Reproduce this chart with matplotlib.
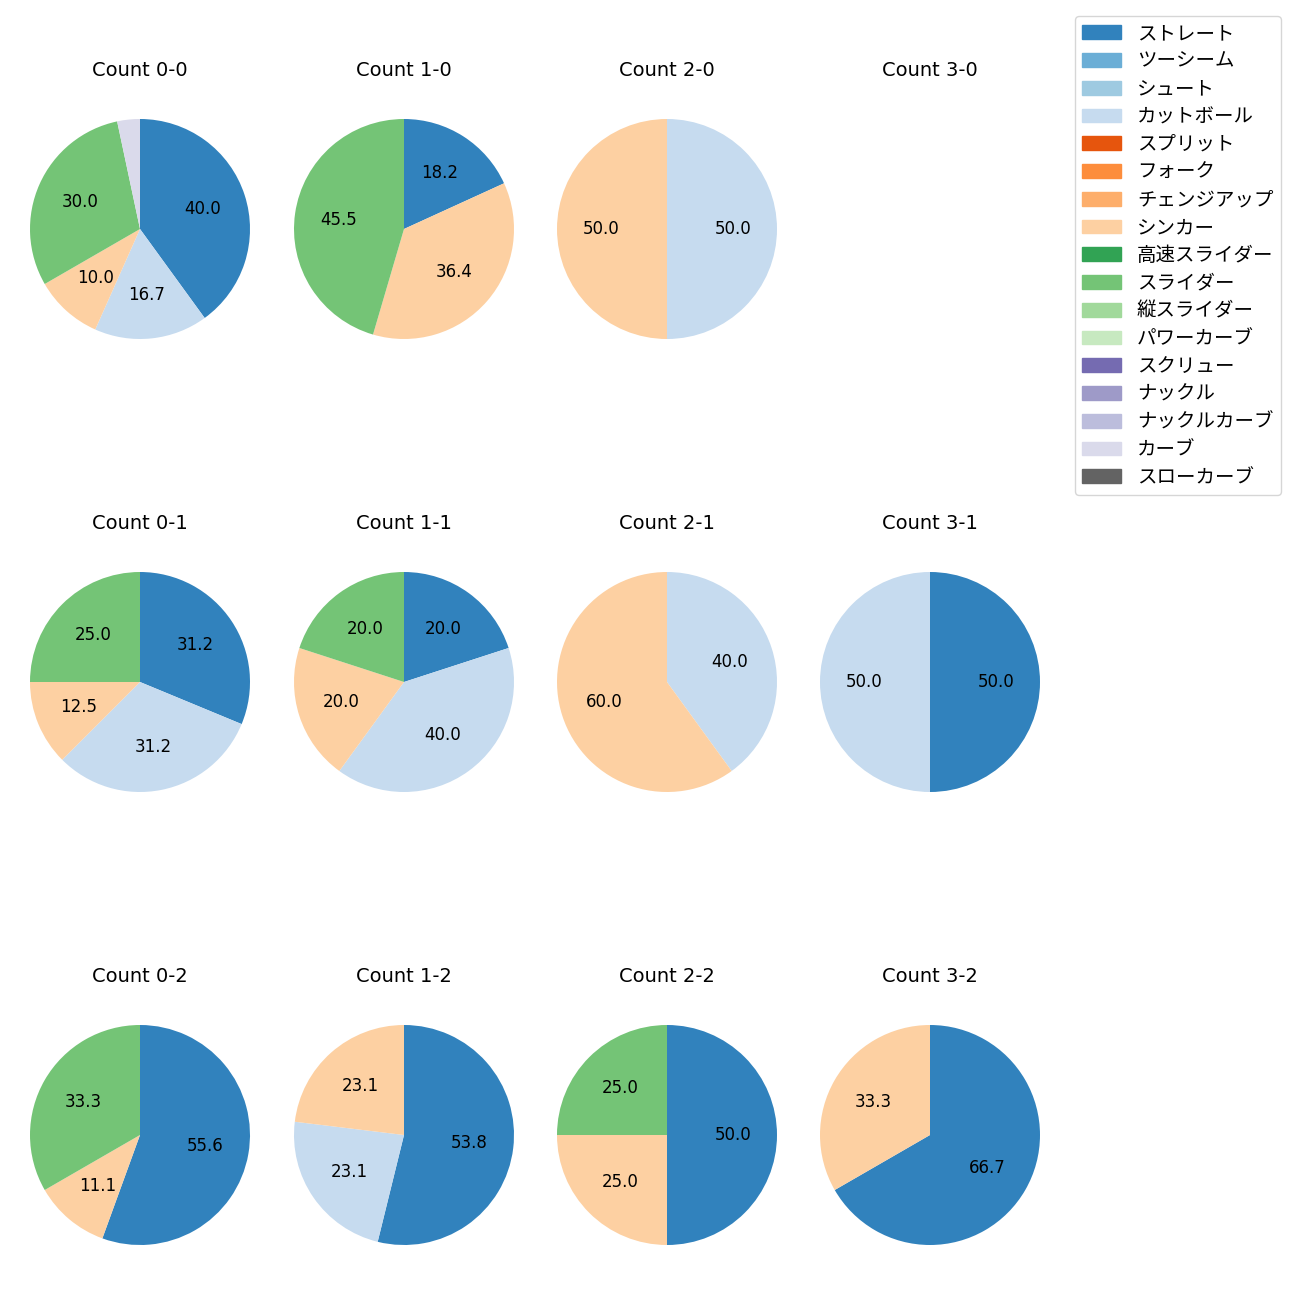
import matplotlib
matplotlib.use('Agg')
import matplotlib.pyplot as plt
from matplotlib.patches import Patch

plt.rcParams['font.family'] = ['DejaVu Sans', 'Noto Sans CJK JP']

pitch_types = ['ストレート', 'ツーシーム', 'シュート', 'カットボール', 'スプリット', 'フォーク',
               'チェンジアップ', 'シンカー', '高速スライダー', 'スライダー', '縦スライダー',
               'パワーカーブ', 'スクリュー', 'ナックル', 'ナックルカーブ', 'カーブ', 'スローカーブ']

# pitch counts per ball-strike count, keyed by pitch type
counts = {
    '0-0': {'ストレート': 12, 'カットボール': 5, 'シンカー': 3, 'スライダー': 9, 'カーブ': 1},
    '1-0': {'ストレート': 2, 'シンカー': 4, 'スライダー': 5},
    '2-0': {'カットボール': 1, 'シンカー': 1},
    '3-0': {},
    '0-1': {'ストレート': 5, 'カットボール': 5, 'シンカー': 2, 'スライダー': 4},
    '1-1': {'ストレート': 1, 'カットボール': 2, 'シンカー': 1, 'スライダー': 1},
    '2-1': {'カットボール': 2, 'シンカー': 3},
    '3-1': {'ストレート': 1, 'カットボール': 1},
    '0-2': {'ストレート': 5, 'シンカー': 1, 'スライダー': 3},
    '1-2': {'ストレート': 7, 'カットボール': 3, 'シンカー': 3},
    '2-2': {'ストレート': 2, 'シンカー': 1, 'スライダー': 1},
    '3-2': {'ストレート': 2, 'シンカー': 1},
}

cmap = plt.get_cmap('tab20c')
colors = {p: cmap(i) for i, p in enumerate(pitch_types)}

fig = plt.figure(figsize=(13, 13), dpi=100)

col_x = [140, 404, 667, 930]
row_y = [229, 682, 1135]
size = 275

def pct(p):
    return f'{p:.1f}' if p >= 5 else ''

for r, strikes in enumerate(['0', '1', '2']):
    for c, balls in enumerate(['0', '1', '2', '3']):
        key = balls + '-' + strikes
        ax = fig.add_axes([(col_x[c] - size / 2) / 1300, 1 - (row_y[r] + size / 2) / 1300,
                           size / 1300, size / 1300])
        data = counts[key]
        if data:
            labels = [p for p in pitch_types if p in data]
            vals = [data[p] for p in labels]
            ax.pie(vals, colors=[colors[p] for p in labels], autopct=pct,
                   startangle=90, counterclock=False, textprops={'fontsize': 12})
        else:
            ax.set_xlim(-1.25, 1.25)
            ax.set_ylim(-1.25, 1.25)
            ax.axis('off')
        ax.set_title('Count ' + key, fontsize=14, pad=11)

handles = [Patch(color=colors[p]) for p in pitch_types]
fig.legend(handles, pitch_types, loc='upper right', bbox_to_anchor=(0.993, 0.995),
           fontsize=14, labelspacing=0.45)

fig.savefig('out.png', dpi=100)
